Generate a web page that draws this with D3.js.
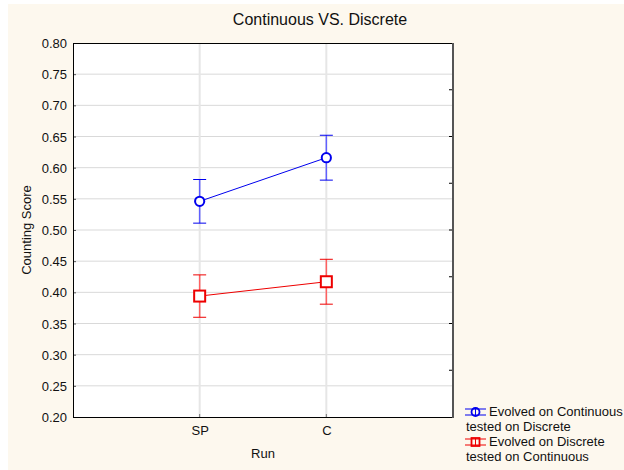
<!DOCTYPE html>
<html><head><meta charset="utf-8">
<script src="https://cdn.jsdelivr.net/npm/d3@7"></script>
<style>body{margin:0;background:#fff}svg{display:block}text{font-family:"Liberation Sans",Arial,sans-serif;fill:#111}</style>
</head><body>
<svg id="c" width="624" height="470"></svg>
<script>
const categories = ["SP", "C"];
const seriesNames = ["Evolved on Continuous\ntested on Discrete", "Evolved on Discrete\ntested on Continuous"];
const blueMean = [0.546, 0.616];
const blueErr = [0.035, 0.036];
const redMean = [0.394, 0.417];
const redErr = [0.034, 0.036];
const yTicks = [0.20,0.25,0.30,0.35,0.40,0.45,0.50,0.55,0.60,0.65,0.70,0.75,0.80];
const rightTicks = [0.275,0.35,0.425,0.5,0.575,0.65,0.725];

const svg = d3.select("#c");
svg.append("rect").attr("x",8).attr("y",4).attr("width",616).attr("height",466).attr("fill","#fdf8ee");
const L=73, R=453, T=43, B=417;
const x = d3.scalePoint().domain(["", ...categories, " "]).range([L, R]);
const y = d3.scaleLinear().domain([0.2,0.8]).range([B,T]);
svg.append("rect").attr("x",L).attr("y",T).attr("width",R-L).attr("height",B-T).attr("fill","#fff");
// grid
svg.append("g").selectAll("line").data(yTicks.slice(1,-1)).join("line")
  .attr("x1",L).attr("x2",R).attr("y1",d=>y(d)).attr("y2",d=>y(d)).attr("stroke","#d9d9d9").attr("stroke-width",1);
svg.append("g").selectAll("line").data(categories).join("line")
  .attr("x1",d=>x(d)).attr("x2",d=>x(d)).attr("y1",T).attr("y2",B).attr("stroke","#e6e6e6").attr("stroke-width",2);
// left axis
const ya = svg.append("g").attr("transform",`translate(${L},0)`).call(d3.axisLeft(y).tickValues(yTicks).tickFormat(d3.format(".2f")).tickSize(0).tickPadding(6));
ya.select(".domain").remove();
ya.selectAll("text").attr("font-size",13).attr("font-family","Liberation Sans, Arial, sans-serif").attr("fill","#111").attr("dy","0.35em");
svg.append("g").selectAll("line").data(yTicks).join("line")
  .attr("x1",L).attr("x2",L+3).attr("y1",d=>y(d)+0.5).attr("y2",d=>y(d)+0.5).attr("stroke","#555");
// bottom axis
const xa = svg.append("g").attr("transform",`translate(0,${B})`).call(d3.axisBottom(x).tickValues(categories).tickSize(0).tickPadding(9));
xa.select(".domain").remove();
xa.selectAll("text").attr("font-size",13).attr("font-family","Liberation Sans, Arial, sans-serif").attr("fill","#111");
svg.append("g").selectAll("line").data(categories).join("line")
  .attr("x1",d=>x(d)).attr("x2",d=>x(d)).attr("y1",B-3).attr("y2",B).attr("stroke","#777");
// right ticks
svg.append("g").selectAll("line").data(rightTicks).join("line")
  .attr("x1",R-4).attr("x2",R).attr("y1",d=>y(d)).attr("y2",d=>y(d)).attr("stroke","#000");
// frame
svg.append("line").attr("x1",L).attr("x2",R).attr("y1",T+0.5).attr("y2",T+0.5).attr("stroke","#000");
svg.append("line").attr("x1",L).attr("x2",R+1).attr("y1",B+0.5).attr("y2",B+0.5).attr("stroke","#000");
svg.append("line").attr("x1",L+0.5).attr("x2",L+0.5).attr("y1",T).attr("y2",B+1).attr("stroke","#000");
svg.append("line").attr("x1",R).attr("x2",R).attr("y1",T).attr("y2",B+1).attr("stroke","#555").attr("stroke-width",2);
// series
const series = [
  {mean: blueMean, err: blueErr, color:"#0000ee", bar:"#6060ff", shape:"circle"},
  {mean: redMean, err: redErr, color:"#ee0000", bar:"#ff6060", shape:"square"}
];
series.forEach(s=>{
  const g = svg.append("g");
  const pts = categories.map((c,i)=>({c, m:s.mean[i], e:s.err[i]}));
  g.selectAll("line.eb").data(pts).join("line").attr("class","eb").attr("x1",d=>x(d.c)).attr("x2",d=>x(d.c))
    .attr("y1",d=>y(d.m+d.e)).attr("y2",d=>y(d.m-d.e)).attr("stroke",s.bar).attr("stroke-width",1.5);
  [1,-1].forEach((sg,k)=>{
    g.selectAll("line.cap"+k).data(pts).join("line").attr("class","cap"+k).attr("x1",d=>x(d.c)-6.5).attr("x2",d=>x(d.c)+6.5)
      .attr("y1",d=>y(d.m+sg*d.e)).attr("y2",d=>y(d.m+sg*d.e)).attr("stroke",s.color).attr("stroke-width",1);
  });
  g.append("path").datum(pts).attr("d",d3.line().x(d=>x(d.c)).y(d=>y(d.m))).attr("fill","none").attr("stroke",s.color).attr("stroke-width",1);
  if(s.shape==="circle"){
    g.selectAll("circle").data(pts).join("circle").attr("cx",d=>x(d.c)).attr("cy",d=>y(d.m)).attr("r",4.6)
      .attr("fill","#fff").attr("stroke",s.color).attr("stroke-width",2);
  } else {
    g.selectAll("rect").data(pts).join("rect").attr("x",d=>x(d.c)-5.5).attr("y",d=>y(d.m)-5.5).attr("width",11).attr("height",11)
      .attr("fill","#fff").attr("stroke",s.color).attr("stroke-width",2);
  }
});
// titles
svg.append("text").attr("x",320).attr("y",25).attr("text-anchor","middle").attr("font-size",16).text("Continuous VS. Discrete");
svg.append("text").attr("x",263).attr("y",458).attr("text-anchor","middle").attr("font-size",13).text("Run");
svg.append("text").attr("transform","translate(31,230) rotate(-90)").attr("text-anchor","middle").attr("font-size",13).text("Counting Score");
// legend
const lg = svg.append("g");
series.forEach((s,i)=>{
  const yy = 412 + i*30;
  const sx = 465;
  lg.append("line").attr("x1",sx).attr("x2",sx+21).attr("y1",yy-3).attr("y2",yy-3).attr("stroke",s.color);
  lg.append("line").attr("x1",sx).attr("x2",sx+21).attr("y1",yy+3).attr("y2",yy+3).attr("stroke",s.color);
  lg.append("line").attr("x1",sx+10.5).attr("x2",sx+10.5).attr("y1",yy-4).attr("y2",yy+4).attr("stroke",s.color);
  if(s.shape==="circle") lg.append("circle").attr("cx",sx+10.5).attr("cy",yy).attr("r",4).attr("fill","none").attr("stroke",s.color).attr("stroke-width",1.8);
  else lg.append("rect").attr("x",sx+6.5).attr("y",yy-4).attr("width",8).attr("height",8).attr("fill","none").attr("stroke",s.color).attr("stroke-width",1.8);
  const parts = seriesNames[i].split("\n");
  lg.append("text").attr("x",489).attr("y",yy+4).attr("font-size",13).text(parts[0]);
  lg.append("text").attr("x",466).attr("y",yy+19).attr("font-size",13).text(parts[1]);
});
</script>
</body></html>
